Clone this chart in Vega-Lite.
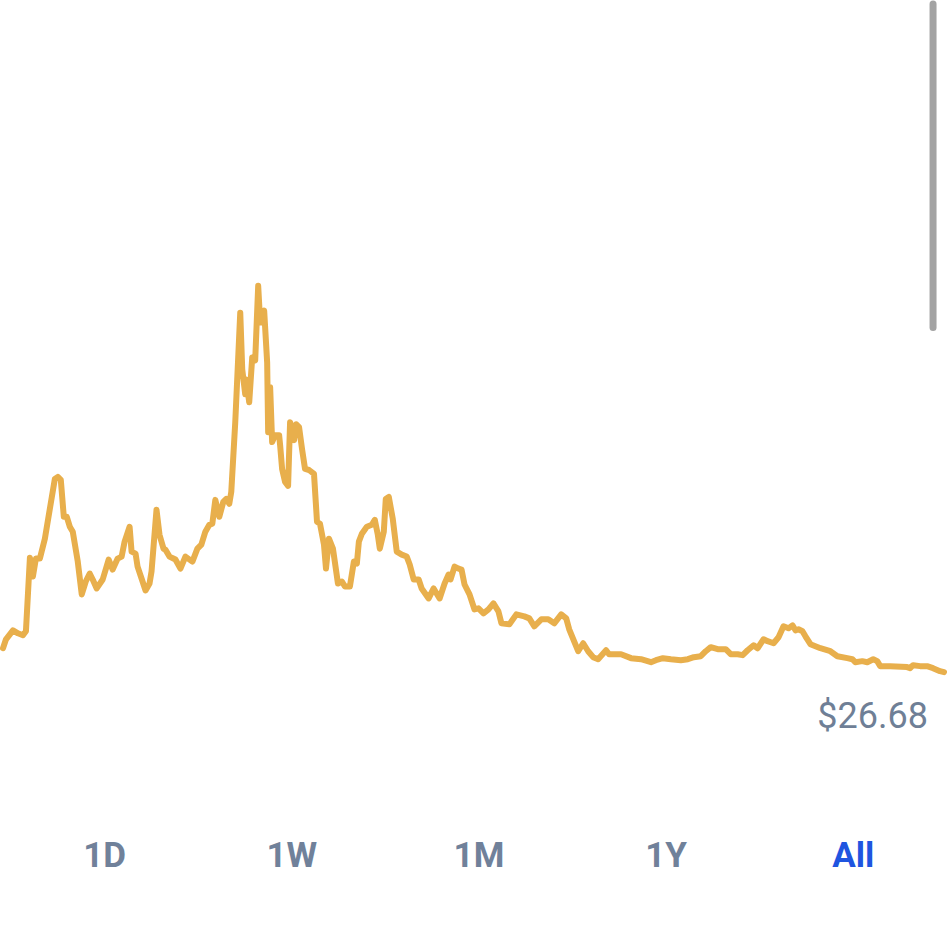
{
  "$schema": "https://vega.github.io/schema/vega-lite/v6.json",
  "width": 947,
  "height": 929,
  "autosize": {"type": "fit", "contains": "padding"},
  "padding": 0,
  "background": "#ffffff",
  "config": {"view": {"stroke": null}},
  "datasets": {
    "prices": [
      {"t":0,"price":29.16},{"t":3,"price":30.09},{"t":10,"price":31.02},{"t":15,"price":30.71},{"t":20,"price":30.51},{"t":23,"price":30.92},
      {"t":27,"price":38.57},{"t":30,"price":36.61},{"t":33,"price":38.47},{"t":37,"price":38.47},{"t":42,"price":40.54},{"t":47,"price":43.64},
      {"t":52,"price":46.74},{"t":55,"price":46.95},{"t":58,"price":46.64},{"t":61,"price":42.81},{"t":64,"price":42.81},{"t":67,"price":41.78},
      {"t":70,"price":41.26},{"t":75,"price":38.16},{"t":79,"price":34.75},{"t":83,"price":36.09},{"t":87,"price":36.92},{"t":90,"price":36.30},
      {"t":94,"price":35.37},{"t":100,"price":36.30},{"t":106,"price":38.37},{"t":110,"price":37.33},{"t":115,"price":38.47},{"t":119,"price":38.68},
      {"t":122,"price":40.23},{"t":127,"price":41.78},{"t":129,"price":39.19},{"t":133,"price":38.99},{"t":135,"price":37.64},{"t":139,"price":36.40},
      {"t":143,"price":35.16},{"t":147,"price":35.88},{"t":149,"price":37.12},{"t":154,"price":43.54},{"t":157,"price":40.95},{"t":161,"price":39.50},
      {"t":163,"price":39.40},{"t":167,"price":38.68},{"t":173,"price":38.37},{"t":178,"price":37.43},{"t":183,"price":38.68},{"t":190,"price":38.16},
      {"t":195,"price":39.50},{"t":199,"price":39.92},{"t":203,"price":41.26},{"t":207,"price":41.98},{"t":210,"price":42.09},{"t":213,"price":44.57},
      {"t":217,"price":42.81},{"t":221,"price":44.36},{"t":224,"price":44.67},{"t":227,"price":44.16},{"t":229,"price":45.40},{"t":233,"price":52.64},
      {"t":238,"price":64.01},{"t":240,"price":58.12},{"t":243,"price":55.53},{"t":244,"price":57.08},{"t":247,"price":54.70},{"t":250,"price":59.36},
      {"t":253,"price":59.05},{"t":256,"price":66.80},{"t":258,"price":62.98},{"t":262,"price":64.22},{"t":265,"price":58.84},{"t":266,"price":51.60},
      {"t":268,"price":56.26},{"t":270,"price":50.57},{"t":273,"price":51.29},{"t":277,"price":51.29},{"t":278,"price":50.26},{"t":280,"price":47.78},
      {"t":283,"price":46.43},{"t":286,"price":46.02},{"t":288,"price":52.64},{"t":292,"price":50.77},{"t":294,"price":52.43},{"t":297,"price":52.12},
      {"t":300,"price":49.84},{"t":303,"price":47.78},{"t":307,"price":47.67},{"t":312,"price":47.26},{"t":315,"price":42.29},{"t":318,"price":42.09},
      {"t":322,"price":39.92},{"t":324,"price":37.43},{"t":327,"price":40.54},{"t":331,"price":39.50},{"t":336,"price":35.88},{"t":340,"price":36.09},
      {"t":343,"price":35.57},{"t":348,"price":35.57},{"t":352,"price":38.16},{"t":355,"price":37.95},{"t":357,"price":40.23},{"t":360,"price":41.05},
      {"t":365,"price":41.78},{"t":370,"price":41.98},{"t":373,"price":42.50},{"t":376,"price":40.95},{"t":378,"price":39.50},{"t":382,"price":41.26},
      {"t":384,"price":44.67},{"t":387,"price":44.88},{"t":391,"price":42.60},{"t":395,"price":39.19},{"t":400,"price":38.88},{"t":405,"price":38.68},
      {"t":408,"price":37.85},{"t":412,"price":36.30},{"t":417,"price":36.30},{"t":420,"price":35.37},{"t":427,"price":34.33},{"t":432,"price":35.37},
      {"t":438,"price":34.33},{"t":443,"price":35.88},{"t":447,"price":36.81},{"t":449,"price":36.30},{"t":453,"price":37.64},{"t":457,"price":37.43},
      {"t":460,"price":37.33},{"t":463,"price":35.78},{"t":468,"price":34.75},{"t":473,"price":33.19},{"t":477,"price":33.30},{"t":482,"price":32.78},
      {"t":487,"price":33.19},{"t":492,"price":33.82},{"t":497,"price":32.99},{"t":500,"price":31.75},{"t":508,"price":31.64},{"t":515,"price":32.68},
      {"t":523,"price":32.47},{"t":528,"price":32.26},{"t":533,"price":31.44},{"t":540,"price":32.16},{"t":547,"price":32.16},{"t":553,"price":31.75},
      {"t":560,"price":32.68},{"t":565,"price":32.26},{"t":568,"price":31.13},{"t":577,"price":28.85},{"t":582,"price":29.68},{"t":587,"price":28.85},
      {"t":592,"price":28.23},{"t":597,"price":28.02},{"t":605,"price":28.95},{"t":608,"price":28.54},{"t":620,"price":28.54},{"t":630,"price":28.13},
      {"t":640,"price":28.02},{"t":650,"price":27.71},{"t":655,"price":27.92},{"t":662,"price":28.13},{"t":670,"price":28.02},{"t":680,"price":27.92},
      {"t":687,"price":28.02},{"t":693,"price":28.23},{"t":700,"price":28.33},{"t":705,"price":28.85},{"t":710,"price":29.27},{"t":717,"price":29.06},
      {"t":725,"price":29.06},{"t":730,"price":28.54},{"t":737,"price":28.54},{"t":742,"price":28.44},{"t":747,"price":28.95},{"t":753,"price":29.47},
      {"t":757,"price":29.16},{"t":763,"price":30.09},{"t":767,"price":29.89},{"t":773,"price":29.68},{"t":778,"price":30.30},{"t":783,"price":31.44},
      {"t":788,"price":31.23},{"t":792,"price":31.54},{"t":795,"price":31.02},{"t":798,"price":31.13},{"t":802,"price":30.92},{"t":805,"price":30.40},
      {"t":810,"price":29.58},{"t":820,"price":29.16},{"t":830,"price":28.85},{"t":837,"price":28.33},{"t":847,"price":28.13},{"t":852,"price":28.02},
      {"t":855,"price":27.71},{"t":862,"price":27.82},{"t":867,"price":27.71},{"t":873,"price":28.02},{"t":877,"price":27.82},{"t":880,"price":27.30},
      {"t":890,"price":27.30},{"t":907,"price":27.20},{"t":910,"price":27.09},{"t":913,"price":27.40},{"t":920,"price":27.30},{"t":927,"price":27.30},
      {"t":933,"price":27.09},{"t":940,"price":26.78},{"t":944,"price":26.68}
    ],
    "last": [{"t": 944, "price": 26.68, "label": "$26.68"}],
    "tabs": [
      {"label": "1D", "state": "off"},
      {"label": "1W", "state": "off"},
      {"label": "1M", "state": "off"},
      {"label": "1Y", "state": "off"},
      {"label": "All", "state": "on"}
    ],
    "scroll": [{"t": 933, "top": 96.07, "bottom": 62.46}]
  },
  "layer": [
    {
      "data": {"name": "prices"},
      "mark": {"type": "line", "color": "#E8AF4C", "strokeWidth": 6, "strokeJoin": "round", "strokeCap": "round"},
      "encoding": {
        "x": {"field": "t", "type": "quantitative", "scale": {"domain": [0, 947], "nice": false, "zero": false}, "axis": null},
        "y": {"field": "price", "type": "quantitative", "scale": {"domain": [0, 96.07], "nice": false}, "axis": null}
      }
    },
    {
      "data": {"name": "last"},
      "mark": {"type": "text", "align": "right", "baseline": "alphabetic", "dx": -16, "dy": 56, "font": "Roboto", "fontSize": 36, "fontWeight": 400, "color": "#6F7F96"},
      "encoding": {
        "x": {"field": "t", "type": "quantitative", "scale": {"domain": [0, 947], "nice": false, "zero": false}, "axis": null},
        "y": {"field": "price", "type": "quantitative", "scale": {"domain": [0, 96.07], "nice": false}, "axis": null},
        "text": {"field": "label"}
      }
    },
    {
      "data": {"name": "scroll"},
      "mark": {"type": "rule", "color": "#A3A3A3", "strokeWidth": 7, "strokeCap": "round"},
      "encoding": {
        "x": {"field": "t", "type": "quantitative", "scale": {"domain": [0, 947], "nice": false, "zero": false}, "axis": null},
        "y": {"field": "top", "type": "quantitative", "axis": null},
        "y2": {"field": "bottom"}
      }
    },
    {
      "data": {"name": "tabs"},
      "mark": {"type": "text", "align": "center", "baseline": "alphabetic", "font": "Roboto", "fontSize": 35, "fontWeight": 700},
      "encoding": {
        "x": {"field": "label", "type": "nominal", "sort": null, "scale": {"type": "point", "padding": 0.522, "align": 0.52}, "axis": null},
        "y": {"datum": 6.41, "type": "quantitative"},
        "text": {"field": "label"},
        "color": {"field": "state", "type": "nominal", "scale": {"domain": ["off", "on"], "range": ["#70819A", "#1F55E0"]}, "legend": null}
      }
    }
  ],
  "resolve": {"scale": {"x": "independent"}}
}
